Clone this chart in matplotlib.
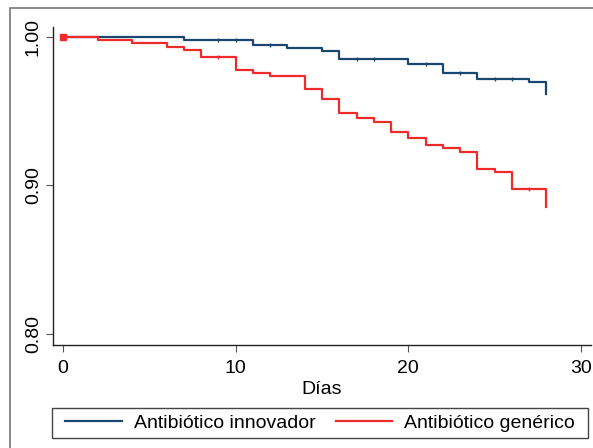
import numpy as np
import matplotlib.pyplot as plt
from matplotlib.patches import Rectangle

plt.rcParams['font.family'] = ['Liberation Sans', 'DejaVu Sans']

# Kaplan-Meier, tiempos de evento y supervivencia
t_innov = [0, 7, 11, 13, 15, 16, 20, 22, 24, 27, 28]
s_innov = [1.0, 0.9978, 0.9946, 0.9924, 0.9908, 0.985, 0.9816, 0.9757, 0.972, 0.970, 0.9614]
c_innov = [9, 10, 12, 17, 18, 21, 23, 25, 26]   # censuras

t_gen = [0, 2, 4, 6, 7, 8, 10, 11, 12, 14, 15, 16, 17, 18, 19, 20, 21, 22, 23, 24, 25, 26, 28]
s_gen = [1.0, 0.998, 0.9957, 0.9935, 0.9912, 0.9867, 0.978, 0.9758, 0.9735, 0.9648, 0.9582,
         0.949, 0.9452, 0.943, 0.9358, 0.9322, 0.927, 0.925, 0.9223, 0.911, 0.9089, 0.8975, 0.8853]
c_gen = [9, 27]

labels = ['Antibiótico innovador', 'Antibiótico genérico']
xticks = [0, 10, 20, 30]
yticks = [0.80, 0.90, 1.00]

azul = '#1a476f'
rojo = '#ee2a2a'

def surv_at(t, s, x):
    i = np.searchsorted(t, x, side='right') - 1
    return np.array(s)[i]

fig = plt.figure(figsize=(5.93, 4.48), dpi=100)
fig.patches.append(Rectangle((10/593, -0.1), 1.2, 1 - 8/448 + 0.1, transform=fig.transFigure,
                             fill=False, edgecolor='#777777', lw=1.2))
ax = fig.add_axes([53/593, 1 - 345/448, 538/593, 318/448])

ax.step(t_innov, s_innov, where='post', color=azul, lw=1.6, label=labels[0])
ax.step(t_gen, s_gen, where='post', color=rojo, lw=1.6, label=labels[1])
ax.plot(c_innov, surv_at(t_innov, s_innov, c_innov), ls='none', marker='|', ms=3, mew=1, color=azul)
ax.plot(c_gen, surv_at(t_gen, s_gen, c_gen), ls='none', marker='|', ms=3, mew=1, color=rojo)
ax.plot([0], [1.0], ls='none', marker='s', ms=4, color=rojo)

ax.set_xlim(-0.58, 30.58)
ax.set_ylim(0.7926, 1.0067)
ax.set_xticks(xticks)
ax.set_yticks(yticks)
ax.set_yticklabels(['%.2f' % v for v in yticks], rotation=90, va='center')
ax.tick_params(labelsize=14, length=5, color='#555555', direction='out', pad=3)
ax.tick_params(axis='x', pad=6)
ax.set_xlabel('Días', fontsize=14, labelpad=3)
for s in ['top', 'right']:
    ax.spines[s].set_visible(False)
for s in ['left', 'bottom']:
    ax.spines[s].set_color('#222222')
    ax.spines[s].set_linewidth(1.0)

# caja de la leyenda
fig.patches.append(Rectangle((52/593, 1 - 438/448), 536/593, 30/448, transform=fig.transFigure,
                             fill=False, edgecolor='#444444', lw=1.0))
leg = fig.legend(loc='center', bbox_to_anchor=(320/593, 1 - 423/448), ncol=2, fontsize=14,
                 frameon=False, handlelength=2.9, handletextpad=0.62, columnspacing=1.03,
                 borderpad=0, borderaxespad=0)

fig.savefig('out.png', dpi=100)
